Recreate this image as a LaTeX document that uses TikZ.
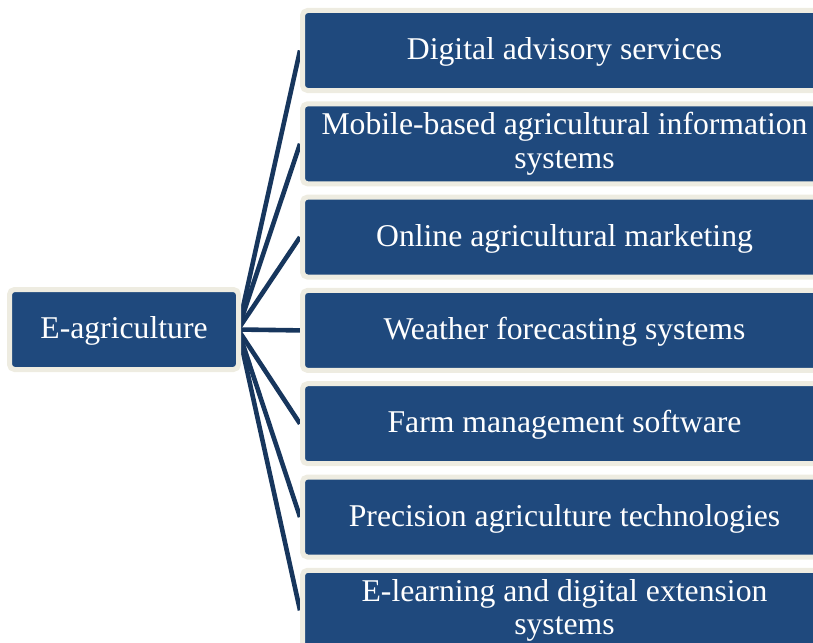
\documentclass[tikz,border=0pt]{standalone}
\usepackage{fontspec}
\setmainfont{Liberation Serif}
\usetikzlibrary{backgrounds}
\definecolor{boxblue}{RGB}{31,73,125}
\definecolor{linkblue}{RGB}{23,54,93}
\definecolor{rimbeige}{RGB}{238,236,225}
% invisible rules that give every text block the same ascent and descent
\newcommand{\boxstrut}{\rule[-7pt]{0pt}{32pt}}
\begin{document}
\begin{tikzpicture}[x=1pt,y=-1pt,
  itembox/.style={rectangle, rounded corners=5pt, fill=boxblue, draw=rimbeige,
    line width=5pt, text=white, align=center, inner sep=0pt,
    font=\fontsize{31.7}{33.5}\selectfont, minimum height=80pt,
    execute at begin node=\boxstrut, execute at end node=\boxstrut},
  rootbox/.style={itembox, minimum width=229pt},
  leafbox/.style={itembox, minimum width=524pt},
  link/.style={draw=linkblue, line width=4.6pt}]
\useasboundingbox (0,0) rectangle (813,642);

\node[rootbox] (root) at (124,329.5) {E-agriculture};

\node[leafbox] (l1) at (564.5,50.5)  {Digital advisory services};
\node[leafbox] (l2) at (564.5,143.8) {Mobile-based agricultural information\\systems};
\node[leafbox] (l3) at (564.5,237.1) {Online agricultural marketing};
\node[leafbox] (l4) at (564.5,330.4) {Weather forecasting systems};
\node[leafbox] (l5) at (564.5,423.7) {Farm management software};
\node[leafbox] (l6) at (564.5,517.0) {Precision agriculture technologies};
\node[leafbox] (l7) at (564.5,610.3) {E-learning and digital extension\\systems};

\begin{pgfonlayer}{background}
  \foreach \k in {1,...,7}
    \draw[link] ([xshift=-3pt]root.east) -- (l\k.west);
\end{pgfonlayer}
\end{tikzpicture}
\end{document}
